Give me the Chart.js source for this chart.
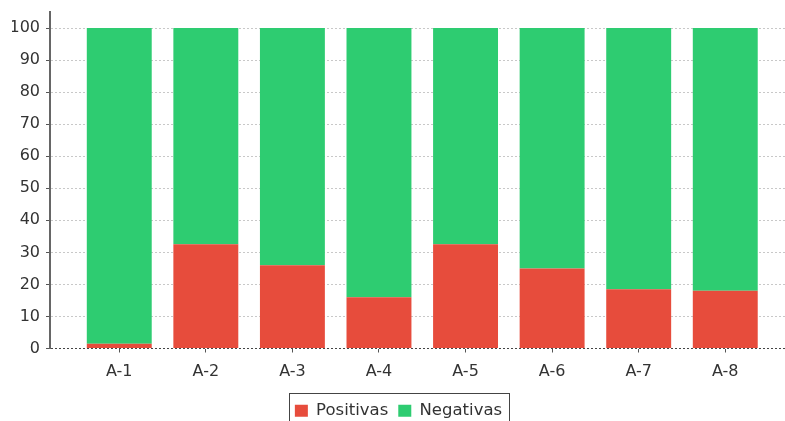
<!DOCTYPE html>
<html>
<head>
<meta charset="utf-8">
<script src="https://cdn.jsdelivr.net/npm/chart.js@4/dist/chart.umd.min.js"></script>
<style>
  html, body { margin: 0; padding: 0; background: #fff; }
  #wrap { width: 785px; height: 421px; position: relative; }
</style>
</head>
<body>
<div id="wrap"><canvas id="myChart"></canvas></div>
<script>
// datos
var categorias = ["A-1", "A-2", "A-3", "A-4", "A-5", "A-6", "A-7", "A-8"];
var positivas = [1.5, 32.5, 26, 16, 32.5, 25, 18.5, 18];
var negativas = [98.5, 67.5, 74, 84, 67.5, 75, 81.5, 82];
var ticksY = [0, 10, 20, 30, 40, 50, 60, 70, 80, 90, 100];

function puntos(valores) {
  return valores.map(function(v, i) {
    return { x: i, y: v };
  });
}

// marco alrededor de la leyenda
var marcoLeyenda = {
  id: "marcoLeyenda",
  afterDraw: function(chart) {
    var boxes = chart.legend.legendHitBoxes;
    if (!boxes || !boxes.length) return;
    var left = Math.min.apply(null, boxes.map(b => b.left));
    var right = Math.max.apply(null, boxes.map(b => b.left + b.width));
    var top = Math.min.apply(null, boxes.map(b => b.top));
    var ctx = chart.ctx;
    ctx.save();
    ctx.strokeStyle = "#444";
    ctx.lineWidth = 1;
    ctx.strokeRect(Math.round(left - 6) + 0.5, Math.round(top - 10) + 0.5, Math.round(right - left + 13), 60);
    ctx.restore();
  }
};

Chart.defaults.font.family = "'DejaVu Sans', Verdana, sans-serif";
Chart.defaults.color = "#333";

var ctx = document.getElementById("myChart").getContext("2d");
var chart = new Chart(ctx, {
  type: "bar",
  data: {
    datasets: [
      {
        label: "Positivas",
        data: puntos(positivas),
        backgroundColor: "#e74c3c",
        borderWidth: 0
      },
      {
        label: "Negativas",
        data: puntos(negativas),
        backgroundColor: "#2ecc71",
        borderWidth: 0
      }
    ]
  },
  options: {
    responsive: true,
    maintainAspectRatio: false,
    animation: false,
    layout: { padding: { top: 12, left: 12, right: 0, bottom: -8 } },
    datasets: {
      bar: { categoryPercentage: 1, barPercentage: 0.75 }
    },
    scales: {
      x: {
        type: "linear",
        stacked: true,
        offset: false,
        min: -0.8,
        max: 7.69,
        afterBuildTicks: function(scale) {
          scale.ticks = categorias.map(function(c, i) { return { value: i }; });
        },
        afterFit: function(scale) {
          scale.height = 44;
          scale.paddingLeft = 0;
          scale.paddingRight = 0;
        },
        ticks: {
          font: { size: 16 },
          color: "#333",
          padding: 10,
          callback: function(value) { return categorias[value]; }
        },
        grid: {
          offset: false,
          drawOnChartArea: false,
          drawTicks: true,
          tickLength: 4,
          tickColor: "#555"
        },
        border: { display: false }
      },
      y: {
        stacked: true,
        min: 0,
        max: 105,
        afterBuildTicks: function(scale) {
          scale.ticks = ticksY.map(function(v) { return { value: v }; });
        },
        afterFit: function(scale) {
          scale.width = 38;
          scale.paddingTop = 0;
          scale.paddingBottom = 0;
        },
        ticks: {
          font: { size: 16 },
          color: "#333",
          padding: 6
        },
        grid: {
          color: function(c) {
            return c.tick && c.tick.value === 0 ? "#444" : "#c8c8c8";
          },
          tickColor: "#555",
          tickLength: 4,
          tickBorderDash: [],
          lineWidth: 1
        },
        border: { display: true, color: "#666", width: 2, dash: [2, 2] }
      }
    },
    plugins: {
      legend: {
        position: "bottom",
        labels: {
          font: { size: 16.5 },
          color: "#333",
          boxWidth: 13,
          boxHeight: 12,
          padding: 10
        }
      },
      tooltip: { enabled: false }
    }
  },
  plugins: [marcoLeyenda]
});
</script>
</body>
</html>
